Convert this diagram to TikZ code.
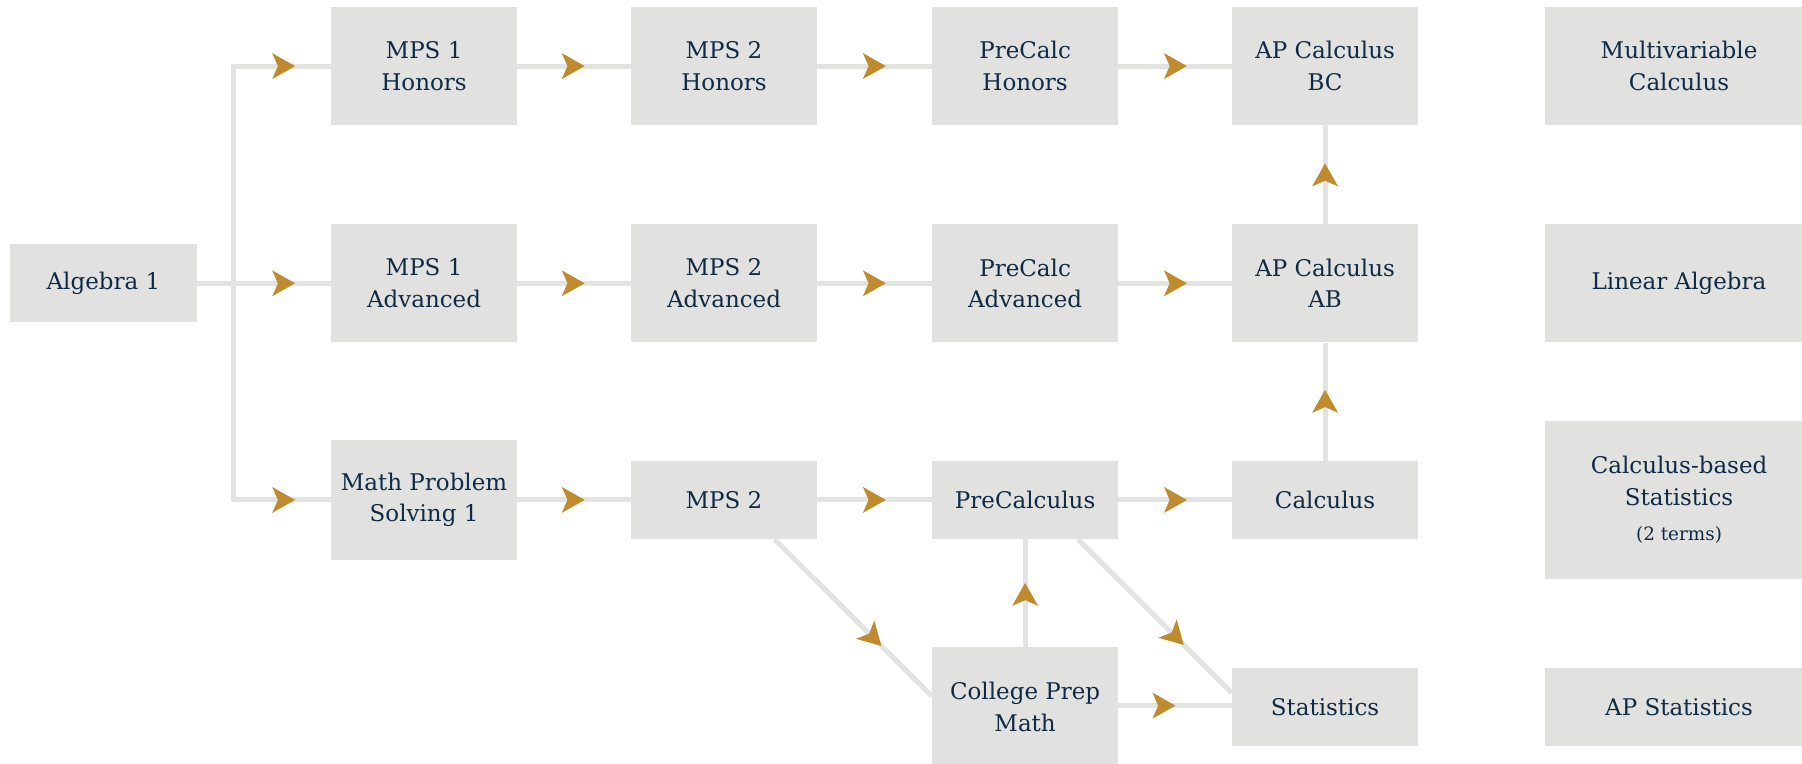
\documentclass[tikz,border=0pt]{standalone}
\usepackage{fontspec}
\setmainfont{DejaVu Serif}
\usetikzlibrary{calc,decorations.markings}
\definecolor{boxgray}{HTML}{E1E1DF}
\definecolor{linegray}{HTML}{E3E3E1}
\definecolor{gold}{HTML}{BF8B2E}
\definecolor{navy}{HTML}{0F2A45}
\begin{document}
\begin{tikzpicture}[x=1pt,y=-1pt,
  course/.style={fill=boxgray, text=navy, inner sep=0pt, minimum width=162pt, align=center,
    font=\fontsize{20}{27.6}\selectfont},
  tall/.style={course, minimum height=103pt},
  short/.style={course, minimum height=68pt},
  wide/.style={minimum width=234pt},
  conn/.style={draw=linegray, line width=4.4pt},
  tipat/.style={postaction={decorate,decoration={markings,
    mark=at position #1 with {\fill[gold] (0,0) -- (-20,-11.3) -- (-15,0) -- (-20,11.3) -- cycle;}}}}
]
\useasboundingbox (0,0) rectangle (1568,664);
\clip (0,0) rectangle (1568,664);

% column 0
\node[short] (alg) at (90,246.5) {Algebra 1};
% column 1
\node[tall] (mpsah) at (369,57.5) {MPS 1\\Honors};
\node[tall] (mpsaa) at (369,246.5) {MPS 1\\Advanced};
\node[tall, minimum height=104pt] (mpsap) at (369,435) {Math Problem\\Solving 1};
% column 2
\node[tall] (mpsbh) at (630,57.5) {MPS 2\\Honors};
\node[tall] (mpsba) at (630,246.5) {MPS 2\\Advanced};
\node[short] (mpsb) at (630,435) {MPS 2};
% column 3
\node[tall] (pch) at (892,57.5) {PreCalc\\Honors};
\node[tall] (pca) at (892,246.5) {PreCalc\\Advanced};
\node[short] (pcal) at (892,435) {PreCalculus};
\node[tall, minimum height=104pt] (cpm) at (892,615) {College Prep\\Math};
% column 4
\node[tall] (abc) at (1153,57.5) {AP Calculus\\BC};
\node[tall] (aab) at (1153,246.5) {AP Calculus\\AB};
\node[short] (calc) at (1153,435) {Calculus};
\node[short] (stat) at (1153,615) {Statistics};
% column 5
\node[tall, wide] (multi) at (1461,57.5) {Multivariable\\Calculus};
\node[tall, wide] (lin) at (1461,246.5) {Linear Algebra};
\node[course, wide, minimum height=138pt] (cbs) at (1461,435)
  {Calculus-based\\Statistics\\[3pt]{\fontsize{16}{22}\selectfont (2 terms)}};
\node[short, wide] (aps) at (1461,615) {AP Statistics};

% branches from Algebra 1
\coordinate (br) at ($(alg.east)+(32,0)$);
\draw[conn, tipat=-31pt] (alg.east) -- (mpsaa.west);
\draw[conn, tipat=-31pt] (br) |- (mpsah.west);
\draw[conn, tipat=-31pt] (br) |- (mpsap.west);

% rows
\draw[conn, tipat=-40pt] (mpsah.east) -- (mpsbh.west);
\draw[conn, tipat=-40pt] (mpsbh.east) -- (pch.west);
\draw[conn, tipat=-39pt] (pch.east) -- (abc.west);
\draw[conn, tipat=-40pt] (mpsaa.east) -- (mpsba.west);
\draw[conn, tipat=-40pt] (mpsba.east) -- (pca.west);
\draw[conn, tipat=-39pt] (pca.east) -- (aab.west);
\draw[conn, tipat=-40pt] (mpsap.east) -- (mpsb.west);
\draw[conn, tipat=-40pt] (mpsb.east) -- (pcal.west);
\draw[conn, tipat=-39pt] (pcal.east) -- (calc.west);

% vertical
\draw[conn, tipat=-33pt] (aab.north) -- (abc.south);
\draw[conn, tipat=-41pt] (calc.north) -- (aab.south);
\draw[conn, tipat=-38pt] (cpm.north) -- (pcal.south);

% lower connectors
\draw[conn, tipat=-49pt] ($(cpm.east)+(0,-1)$) -- ($(cpm.east -| stat.west)+(0,-1)$);
\draw[conn, tipat=-62pt] ($(mpsb.south)+(44,0)$) -- ($(cpm.north west)+(0,43)$);
\draw[conn, tipat=-59pt] ($(pcal.south)+(46,0)$) -- ($(stat.north west)+(0,22)$);
\end{tikzpicture}
\end{document}
